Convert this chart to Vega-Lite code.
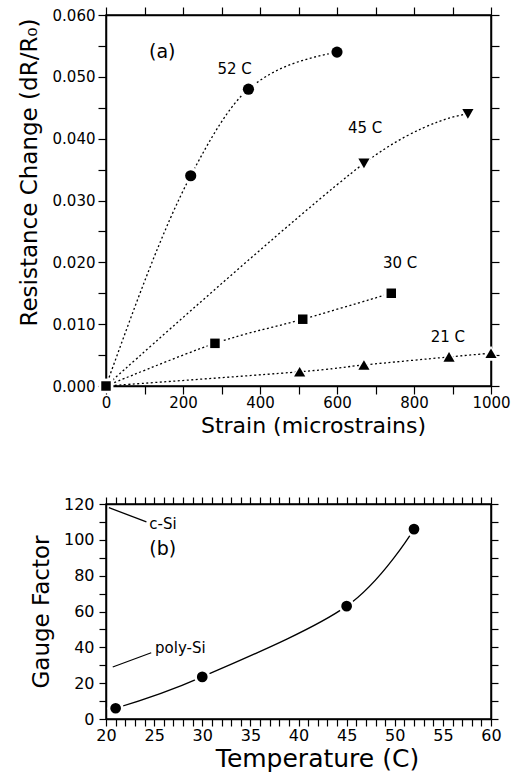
{
  "$schema": "https://vega.github.io/schema/vega-lite/v6.json",
  "padding": {"left": 17, "top": 5, "right": 0, "bottom": 0},
  "background": "white",
  "bounds": "flush",
  "spacing": 118,
  "config": {
    "view": {"stroke": "black", "strokeWidth": 1.5},
    "axis": {
      "grid": false, "zindex": 1, "ticks": true,
      "domainColor": "black", "domainWidth": 1.5,
      "tickColor": "black", "tickWidth": 1.2, "tickOpacity": 1,
      "labelColor": "black", "titleColor": "black",
      "labelFont": "DejaVu Sans", "titleFont": "DejaVu Sans",
      "titleFontWeight": "normal",
      "labelFlush": false, "labelOverlap": false, "labelBound": false
    },
    "text": {"font": "DejaVu Sans", "color": "black"}
  },
  "datasets": {
    "curvesA": [
      {"temp": "52 C", "strain": 0, "dr": 0},
      {"temp": "52 C", "strain": 220, "dr": 0.034},
      {"temp": "52 C", "strain": 370, "dr": 0.048},
      {"temp": "52 C", "strain": 600, "dr": 0.054},
      {"temp": "45 C", "strain": 0, "dr": 0},
      {"temp": "45 C", "strain": 670, "dr": 0.036},
      {"temp": "45 C", "strain": 940, "dr": 0.044},
      {"temp": "30 C", "strain": 0, "dr": 0},
      {"temp": "30 C", "strain": 283, "dr": 0.0069},
      {"temp": "30 C", "strain": 511, "dr": 0.0108},
      {"temp": "30 C", "strain": 741, "dr": 0.015},
      {"temp": "21 C", "strain": 0, "dr": 0},
      {"temp": "21 C", "strain": 503, "dr": 0.0023},
      {"temp": "21 C", "strain": 670, "dr": 0.0034},
      {"temp": "21 C", "strain": 891, "dr": 0.0047},
      {"temp": "21 C", "strain": 1000, "dr": 0.0053}
    ],
    "labelsA": [
      {"label": "52 C", "strain": 334, "dr": 0.0513},
      {"label": "45 C", "strain": 673, "dr": 0.0417},
      {"label": "30 C", "strain": 764, "dr": 0.0199},
      {"label": "21 C", "strain": 888, "dr": 0.0079}
    ],
    "panelA": [{"label": "(a)", "strain": 146, "dr": 0.054}],
    "gf": [
      {"temp": 21, "gf": 6},
      {"temp": 30, "gf": 23.5},
      {"temp": 45, "gf": 63},
      {"temp": 52, "gf": 106}
    ],
    "leaders": [
      {"name": "c-Si", "t1": 20.3, "g1": 118, "t2": 24.2, "g2": 110},
      {"name": "poly-Si", "t1": 20.7, "g1": 29, "t2": 24.7, "g2": 37}
    ],
    "notesB": [
      {"label": "c-Si", "temp": 24.5, "gf": 109},
      {"label": "poly-Si", "temp": 25.1, "gf": 39.5}
    ],
    "panelB": [{"label": "(b)", "temp": 25.9, "gf": 95}]
  },
  "vconcat": [
    {
      "width": 385,
      "height": 371,
      "layer": [
        {
          "data": {"name": "curvesA"},
          "transform": [{"filter": "datum.temp === '52 C'"}],
          "mark": {"type": "line", "interpolate": "monotone", "color": "black", "strokeWidth": 1.3, "strokeDash": [2, 2.5]},
          "encoding": {
            "x": {
              "field": "strain", "type": "quantitative",
              "scale": {"domain": [0, 1000], "nice": false, "zero": false},
              "axis": {
                "orient": "bottom",
                "title": "Strain (microstrains)",
                "titleFontSize": 22, "titlePadding": 5, "titleX": 207,
                "labelFontSize": 15, "labelPadding": 1, "format": "d",
                "values": [0, 100, 200, 300, 400, 500, 600, 700, 800, 900, 1000],
                "labelExpr": "datum.value % 200 === 0 ? datum.label : ''",
                "tickSize": 8,
                "encode": {"ticks": {"update": {"y2": {"signal": "datum.value % 200 === 0 ? -8 : -4"}}}}
              }
            },
            "y": {
              "field": "dr", "type": "quantitative",
              "scale": {"domain": [0, 0.06], "nice": false, "zero": false},
              "axis": {
                "orient": "left",
                "title": "Resistance Change (dR/R₀)",
                "titleFontSize": 23, "titlePadding": 11, "titleY": 157,
                "labelFontSize": 15, "labelPadding": 3, "format": ".3f",
                "values": [0, 0.005, 0.01, 0.015, 0.02, 0.025, 0.03, 0.035, 0.04, 0.045, 0.05, 0.055, 0.06],
                "labelExpr": "round(datum.value * 1000) % 10 === 0 ? datum.label : ''",
                "tickSize": 8,
                "encode": {"ticks": {"update": {"x2": {"signal": "round(datum.value * 1000) % 10 === 0 ? 8 : 4"}}}}
              }
            },
            "detail": {"field": "temp", "type": "nominal"}
          }
        },
        {
          "data": {"name": "curvesA"},
          "transform": [{"filter": "datum.temp !== '52 C'"}],
          "mark": {"type": "line", "interpolate": "cardinal", "tension": 0, "color": "black", "strokeWidth": 1.3, "strokeDash": [2, 2.5]},
          "encoding": {
            "x": {"field": "strain", "type": "quantitative", "scale": {"domain": [0, 1000], "nice": false, "zero": false}, "axis": null},
            "y": {"field": "dr", "type": "quantitative", "scale": {"domain": [0, 0.06], "nice": false, "zero": false}, "axis": null},
            "detail": {"field": "temp", "type": "nominal"}
          }
        },
        {
          "data": {"name": "curvesA"},
          "transform": [{"filter": "datum.strain > 0 || datum.temp === '30 C'"}],
          "mark": {"type": "point", "filled": true, "fill": "white", "opacity": 1},
          "encoding": {
            "x": {"field": "strain", "type": "quantitative", "scale": {"domain": [0, 1000], "nice": false, "zero": false}, "axis": null},
            "y": {"field": "dr", "type": "quantitative", "scale": {"domain": [0, 0.06], "nice": false, "zero": false}, "axis": null},
            "shape": {
              "field": "temp", "type": "nominal",
              "scale": {"domain": ["52 C", "45 C", "30 C", "21 C"], "range": ["circle", "triangle-down", "square", "triangle-up"]},
              "legend": null
            },
            "size": {"condition": {"test": "datum.temp === '30 C'", "value": 220}, "value": 300}
          }
        },
        {
          "data": {"name": "curvesA"},
          "transform": [{"filter": "datum.strain > 0 || datum.temp === '30 C'"}],
          "mark": {"type": "point", "filled": true, "fill": "black", "opacity": 1},
          "encoding": {
            "x": {"field": "strain", "type": "quantitative", "scale": {"domain": [0, 1000], "nice": false, "zero": false}, "axis": null},
            "y": {"field": "dr", "type": "quantitative", "scale": {"domain": [0, 0.06], "nice": false, "zero": false}, "axis": null},
            "shape": {
              "field": "temp", "type": "nominal",
              "scale": {"domain": ["52 C", "45 C", "30 C", "21 C"], "range": ["circle", "triangle-down", "square", "triangle-up"]},
              "legend": null
            },
            "size": {"condition": {"test": "datum.temp === '30 C'", "value": 90}, "value": 125}
          }
        },
        {
          "data": {"name": "labelsA"},
          "mark": {"type": "text", "fontSize": 15, "align": "center", "baseline": "middle"},
          "encoding": {
            "x": {"field": "strain", "type": "quantitative", "scale": {"domain": [0, 1000], "nice": false, "zero": false}, "axis": null},
            "y": {"field": "dr", "type": "quantitative", "scale": {"domain": [0, 0.06], "nice": false, "zero": false}, "axis": null},
            "text": {"field": "label"}
          }
        },
        {
          "data": {"name": "panelA"},
          "mark": {"type": "text", "fontSize": 19, "align": "center", "baseline": "middle"},
          "encoding": {
            "x": {"field": "strain", "type": "quantitative", "scale": {"domain": [0, 1000], "nice": false, "zero": false}, "axis": null},
            "y": {"field": "dr", "type": "quantitative", "scale": {"domain": [0, 0.06], "nice": false, "zero": false}, "axis": null},
            "text": {"field": "label"}
          }
        },
        {
          "data": {"name": "curvesA"},
          "mark": {"type": "point", "opacity": 0},
          "encoding": {
            "x": {
              "field": "strain", "type": "quantitative",
              "scale": {"domain": [0, 1000], "nice": false, "zero": false},
              "axis": {
                "orient": "top", "title": null, "labels": false,
                "values": [0, 100, 200, 300, 400, 500, 600, 700, 800, 900, 1000],
                "tickSize": 8,
                "encode": {"ticks": {"update": {"y2": {"signal": "datum.value % 200 === 0 ? 8 : 4"}}}}
              }
            },
            "y": {
              "field": "dr", "type": "quantitative",
              "scale": {"domain": [0, 0.06], "nice": false, "zero": false},
              "axis": {
                "orient": "right", "title": null, "labels": false,
                "values": [0, 0.005, 0.01, 0.015, 0.02, 0.025, 0.03, 0.035, 0.04, 0.045, 0.05, 0.055, 0.06],
                "tickSize": 8,
                "encode": {"ticks": {"update": {"x2": {"signal": "round(datum.value * 1000) % 10 === 0 ? -8 : -4"}}}}
              }
            }
          }
        }
      ],
      "resolve": {"axis": {"x": "independent", "y": "independent"}}
    },
    {
      "width": 385,
      "height": 215,
      "layer": [
        {
          "data": {"name": "gf"},
          "mark": {"type": "line", "interpolate": "cardinal", "tension": 0, "color": "black", "strokeWidth": 1.3},
          "encoding": {
            "x": {
              "field": "temp", "type": "quantitative",
              "scale": {"domain": [20, 60], "nice": false, "zero": false},
              "axis": {
                "orient": "bottom",
                "title": "Temperature (C)",
                "titleFontSize": 25, "titlePadding": 3, "titleX": 211,
                "labelFontSize": 16, "labelPadding": 1, "format": "d",
                "values": [20,21,22,23,24,25,26,27,28,29,30,31,32,33,34,35,36,37,38,39,40,41,42,43,44,45,46,47,48,49,50,51,52,53,54,55,56,57,58,59,60],
                "labelExpr": "datum.value % 5 === 0 ? datum.label : ''",
                "tickSize": 7,
                "encode": {"ticks": {"update": {"y2": {"signal": "datum.value % 5 === 0 ? -7 : -3.5"}}}}
              }
            },
            "y": {
              "field": "gf", "type": "quantitative",
              "scale": {"domain": [0, 120], "nice": false, "zero": false},
              "axis": {
                "orient": "left",
                "title": "Gauge Factor",
                "titleFontSize": 23, "titlePadding": 10,
                "labelFontSize": 16, "labelPadding": 5, "format": "d",
                "values": [0, 10, 20, 30, 40, 50, 60, 70, 80, 90, 100, 110, 120],
                "labelExpr": "datum.value % 20 === 0 ? datum.label : ''",
                "tickSize": 7,
                "encode": {"ticks": {"update": {"x2": {"signal": "datum.value % 20 === 0 ? 7 : 4"}}}}
              }
            }
          }
        },
        {
          "data": {"name": "gf"},
          "mark": {"type": "point", "filled": true, "fill": "white", "opacity": 1, "shape": "circle", "size": 260},
          "encoding": {
            "x": {"field": "temp", "type": "quantitative", "scale": {"domain": [20, 60], "nice": false, "zero": false}, "axis": null},
            "y": {"field": "gf", "type": "quantitative", "scale": {"domain": [0, 120], "nice": false, "zero": false}, "axis": null}
          }
        },
        {
          "data": {"name": "gf"},
          "mark": {"type": "point", "filled": true, "fill": "black", "opacity": 1, "shape": "circle", "size": 115},
          "encoding": {
            "x": {"field": "temp", "type": "quantitative", "scale": {"domain": [20, 60], "nice": false, "zero": false}, "axis": null},
            "y": {"field": "gf", "type": "quantitative", "scale": {"domain": [0, 120], "nice": false, "zero": false}, "axis": null}
          }
        },
        {
          "data": {"name": "leaders"},
          "mark": {"type": "rule", "color": "black", "strokeWidth": 1.2},
          "encoding": {
            "x": {"field": "t1", "type": "quantitative", "scale": {"domain": [20, 60], "nice": false, "zero": false}, "axis": null},
            "y": {"field": "g1", "type": "quantitative", "scale": {"domain": [0, 120], "nice": false, "zero": false}, "axis": null},
            "x2": {"field": "t2"},
            "y2": {"field": "g2"}
          }
        },
        {
          "data": {"name": "notesB"},
          "mark": {"type": "text", "fontSize": 15, "align": "left", "baseline": "middle"},
          "encoding": {
            "x": {"field": "temp", "type": "quantitative", "scale": {"domain": [20, 60], "nice": false, "zero": false}, "axis": null},
            "y": {"field": "gf", "type": "quantitative", "scale": {"domain": [0, 120], "nice": false, "zero": false}, "axis": null},
            "text": {"field": "label"}
          }
        },
        {
          "data": {"name": "panelB"},
          "mark": {"type": "text", "fontSize": 19, "align": "center", "baseline": "middle"},
          "encoding": {
            "x": {"field": "temp", "type": "quantitative", "scale": {"domain": [20, 60], "nice": false, "zero": false}, "axis": null},
            "y": {"field": "gf", "type": "quantitative", "scale": {"domain": [0, 120], "nice": false, "zero": false}, "axis": null},
            "text": {"field": "label"}
          }
        },
        {
          "data": {"name": "gf"},
          "mark": {"type": "point", "opacity": 0},
          "encoding": {
            "x": {
              "field": "temp", "type": "quantitative",
              "scale": {"domain": [20, 60], "nice": false, "zero": false},
              "axis": {
                "orient": "top", "title": null, "labels": false,
                "values": [20,21,22,23,24,25,26,27,28,29,30,31,32,33,34,35,36,37,38,39,40,41,42,43,44,45,46,47,48,49,50,51,52,53,54,55,56,57,58,59,60],
                "tickSize": 7,
                "encode": {"ticks": {"update": {"y2": {"signal": "datum.value % 5 === 0 ? 7 : 3.5"}}}}
              }
            },
            "y": {
              "field": "gf", "type": "quantitative",
              "scale": {"domain": [0, 120], "nice": false, "zero": false},
              "axis": {
                "orient": "right", "title": null, "labels": false,
                "values": [0, 10, 20, 30, 40, 50, 60, 70, 80, 90, 100, 110, 120],
                "tickSize": 7,
                "encode": {"ticks": {"update": {"x2": {"signal": "datum.value % 20 === 0 ? -7 : -4"}}}}
              }
            }
          }
        }
      ],
      "resolve": {"axis": {"x": "independent", "y": "independent"}}
    }
  ]
}
